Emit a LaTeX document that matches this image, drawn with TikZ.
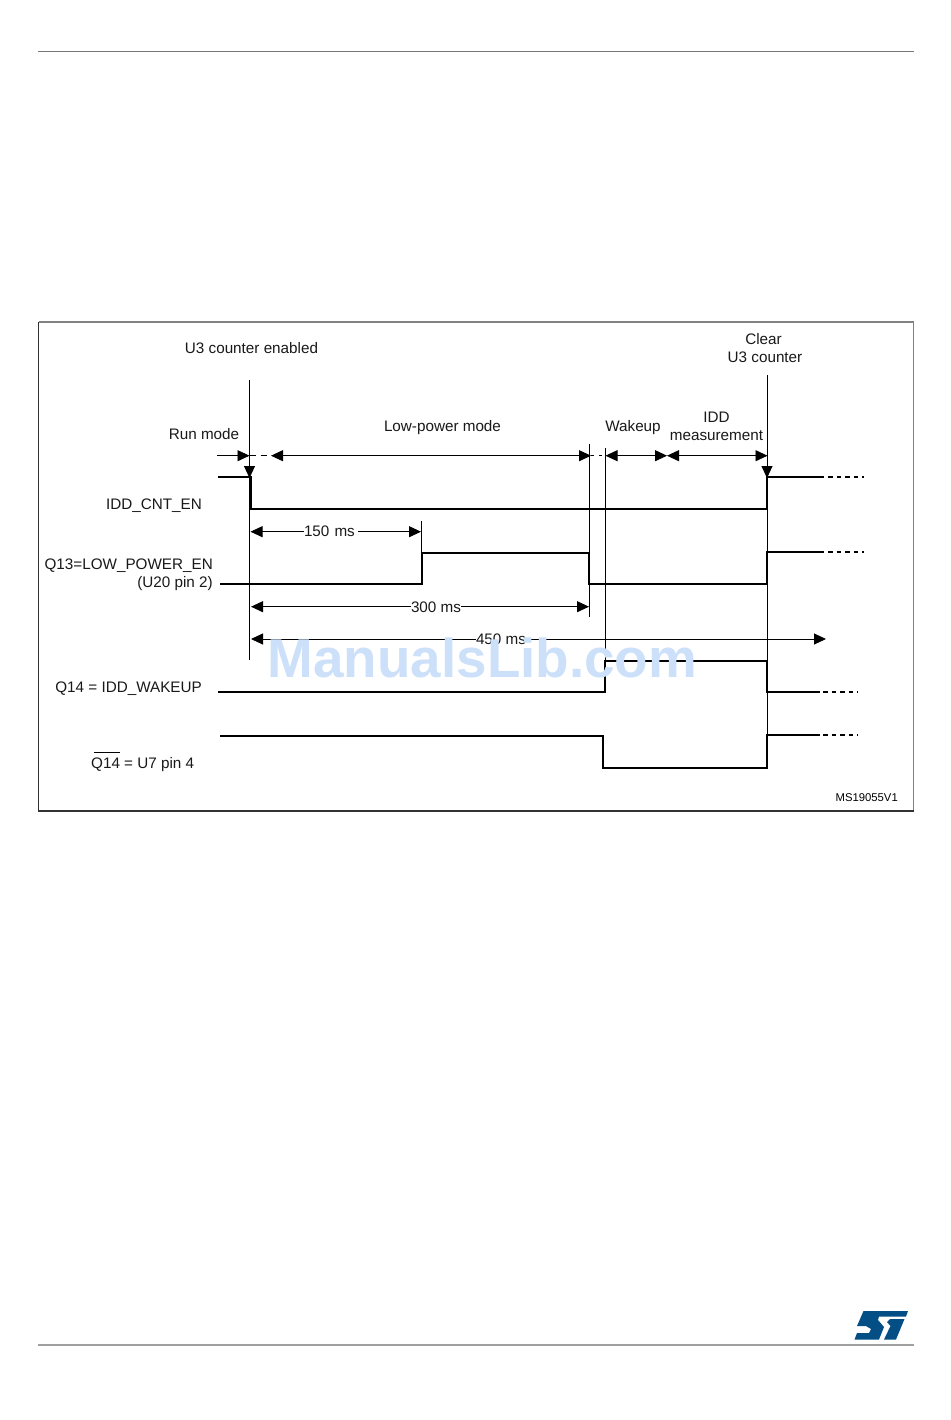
\documentclass[tikz,border=0pt]{standalone}
\usepackage{fontspec}
\setmainfont{Liberation Sans}
\usetikzlibrary{arrows.meta}
\definecolor{frameg}{RGB}{130,130,130}
\definecolor{framed}{RGB}{50,50,50}
\definecolor{ruleg}{RGB}{120,120,120}
\definecolor{wmark}{RGB}{204,224,250}
\definecolor{stblue}{RGB}{3,78,132}
\tikzset{
  lbl/.style={font=\fontsize{15.25}{18}\selectfont,inner sep=0pt,text=black!90},
  sig/.style={line width=2.1pt,line cap=butt,line join=miter},
  sigdash/.style={line width=2pt,dash pattern=on 4.5pt off 4pt},
  guide/.style={line width=1pt},
  dim/.style={line width=0.9pt},
  tip/.style={-{Triangle[length=12pt,width=11pt]}},
  both/.style={{Triangle[length=12pt,width=11pt]}-{Triangle[length=12pt,width=11pt]}},
}
\begin{document}
\begin{tikzpicture}[x=1pt,y=-1pt]
\useasboundingbox (0,0) rectangle (950,1420);
\fill[white] (0,0) rectangle (950,1420);
% page rules and frame
\coordinate (rt0) at (38,52); \coordinate (rt1) at (914,52);
\coordinate (rb0) at (38,1345); \coordinate (rb1) at (914,1345);
\draw[ruleg,line width=1pt] (rt0) -- (rt1);
\draw[ruleg!70,line width=1.4pt] (rb0) -- (rb1);
\draw[frameg,line width=1.1pt] (38.5,322) -- (913.5,322) -- (913.5,811);
\draw[framed,line width=1.1pt] (38.5,322) -- (38.5,811) -- (913.5,811);
% guides
\coordinate (g1t) at (249.5,380); \coordinate (g1b) at (249.5,660);
\coordinate (g2t) at (421.5,521); \coordinate (g2b) at (421.5,553);
\coordinate (g3t) at (589.5,444); \coordinate (g3b) at (589.5,617);
\coordinate (g4t) at (605.5,448); \coordinate (g4b) at (605.5,692);
\coordinate (g5t) at (767.5,375); \coordinate (g5b) at (767.5,736);
\foreach \a/\b in {g1t/g1b,g2t/g2b,g3t/g3b,g4t/g4b,g5t/g5b} \draw[guide] (\a) -- (\b);
% mode arrows y=456
\coordinate (ra0) at (217,455.7); \coordinate (ra1) at (249.5,455.7);
\coordinate (la0) at (271,455.7); \coordinate (la1) at (591,455.7);
\coordinate (wa0) at (605.5,455.7); \coordinate (wa1) at (667,455.7);
\coordinate (ia0) at (667,455.7); \coordinate (ia1) at (767.5,455.7);
\draw[dim,tip] (ra0) -- (ra1);
\draw[dim,both] (la0) -- (la1);
\draw[dim,both] (wa0) -- (wa1);
\draw[dim,both] (ia0) -- (ia1);
\draw[dim,dash pattern=on 6pt off 5pt] (ra1) -- (la0);
\draw[dim,dash pattern=on 3pt off 5pt] (la1) -- (wa0);
% down arrows
\coordinate (da0) at (249.5,456); \coordinate (da1) at (249.5,478);
\coordinate (db0) at (767,456); \coordinate (db1) at (767,478);
\draw[dim,tip] (da0) -- (da1);
\draw[dim,tip] (db0) -- (db1);
% signals
\draw[sig] (218,477) -- (250.5,477);
\draw[line width=3pt] (250.5,476) -- (250.5,509);
\draw[sig] (250,509) -- (767,509);
\draw[line width=2.6pt] (767,510) -- (767,476);
\draw[sig] (767,477) -- (824,477);
\draw[sigdash] (828,477) -- (864,477);
\draw[sig] (220,584) -- (422,584) -- (422,553) -- (589,553) -- (589,584) -- (767,584) -- (767,552) -- (824,552);
\draw[sigdash] (828,552) -- (864,552);
\draw[sig] (218,692) -- (605,692) -- (605,661) -- (767,661) -- (767,692) -- (820,692);
\draw[sigdash] (823,692) -- (858,692);
\draw[sig] (220,736) -- (603,736) -- (603,768) -- (767,768) -- (767,735) -- (820,735);
\draw[sigdash] (823,735) -- (858,735);
% duration arrows
\coordinate (a150a) at (250.5,531.7); \coordinate (a150b) at (421,531.7);
\coordinate (a300a) at (251,606.7); \coordinate (a300b) at (589,606.7);
\coordinate (a450a) at (251,639); \coordinate (a450b) at (826,639);
\draw[dim,both] (a150a) -- (a150b);
\draw[dim,both] (a300a) -- (a300b);
\draw[dim,both] (a450a) -- (a450b);
\node[lbl,fill=white,inner sep=0pt,text width=54pt,align=left] (t150) at (331,531) {150 ms};
\node[lbl,fill=white,inner sep=0pt] (t300) at (436,607) {300 ms};
\node[lbl,fill=white,inner sep=0pt] (t450) at (501,639) {450 ms};
% labels
\node[lbl] (ucen) at (251.5,348) {U3 counter enabled};
\node[lbl,align=center] (clr) at (763.5,348.5) {Clear\\[0pt]\hspace*{3pt}U3 counter};
\node[lbl] (run) at (204,434) {Run mode};
\node[lbl] (low) at (442.5,428) {Low-power mode};
\node[lbl] (wak) at (633,428) {Wakeup};
\node[lbl,align=center] (idd) at (716.5,426) {IDD\\[0pt]measurement};
\node[lbl,anchor=east] (icn) at (202,505.5) {IDD\_CNT\_EN};
\node[lbl,anchor=east,align=right] (q13) at (213,575) {Q13=LOW\_POWER\_EN\\[0pt](U20 pin 2)};
\node[lbl,anchor=east] (q14) at (202,688.5) {Q14 = IDD\_WAKEUP};
\node[lbl,anchor=west] (q14b) at (91,765) {Q14 = U7 pin 4};
\coordinate (ob0) at (94,752); \coordinate (ob1) at (120,752);
\draw[line width=1pt] (ob0) -- (ob1);
\node[font=\fontsize{11.3}{13}\selectfont,inner sep=0pt,anchor=east] (ms) at (898,798) {MS19055V1};
% watermark
\node[font=\bfseries\fontsize{54.8}{60}\selectfont,text=wmark,inner sep=0pt,anchor=base] (wm) at (482.5,677) {ManualsLib.com};
% ST logo
\fill[stblue] (863.5,1311) -- (908,1311) -- (906,1316.5) -- (879,1316.5) -- (878,1320) -- (884,1327) -- (879,1339.5) -- (854.5,1339.5) -- (857,1333) -- (869,1333) -- (871,1329) -- (866,1326) -- (857,1326) -- cycle;
\fill[stblue] (890,1319) -- (904.5,1319) -- (896,1339.5) -- (884,1339.5) -- (890.5,1326) -- (887,1322) -- cycle;
\end{tikzpicture}
\end{document}
